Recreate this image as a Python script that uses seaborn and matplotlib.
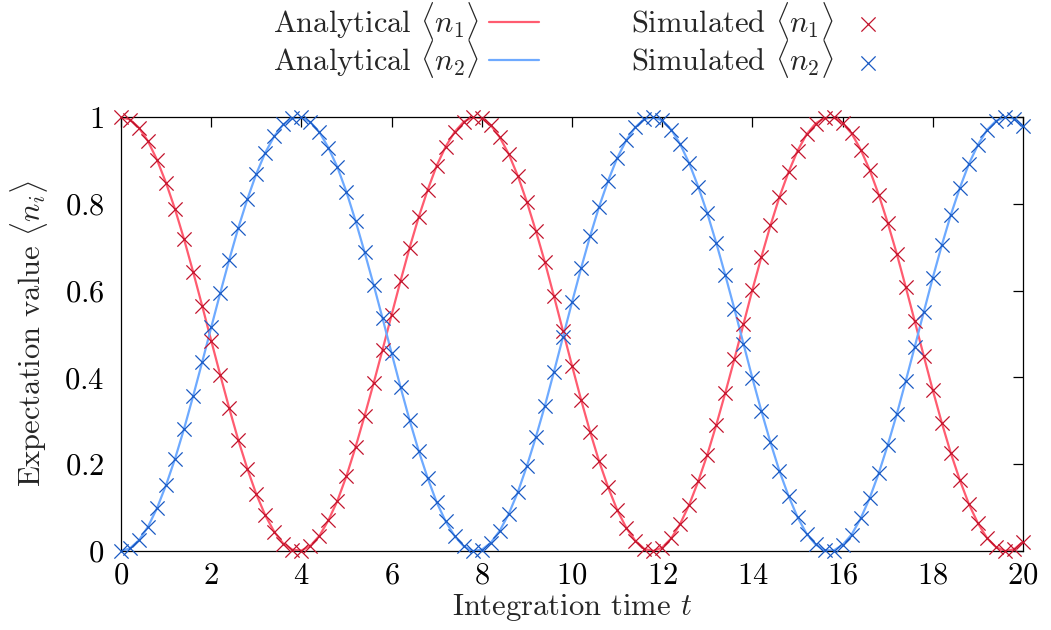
import numpy as np
import pandas as pd
import matplotlib
matplotlib.use("Agg")
import matplotlib.pyplot as plt
from matplotlib.ticker import FixedLocator, FuncFormatter
import seaborn as sns

# Integration times (step 0.2)
t = [round(0.2 * k, 1) for k in range(101)]

# Occupation of mode 1
n1 = [1.000, 0.994, 0.975, 0.944, 0.901, 0.848, 0.787, 0.718, 0.643, 0.565,
      0.485, 0.406, 0.329, 0.256, 0.190, 0.131, 0.082, 0.044, 0.017, 0.003,
      0.001, 0.012, 0.035, 0.071, 0.116, 0.173, 0.239, 0.311, 0.386, 0.464,
      0.544, 0.623, 0.699, 0.769, 0.832, 0.888, 0.932, 0.966, 0.989, 1.000,
      0.997, 0.981, 0.953, 0.914, 0.864, 0.804, 0.737, 0.665, 0.587, 0.507,
      0.427, 0.349, 0.275, 0.207, 0.147, 0.095, 0.054, 0.024, 0.005, 0.000,
      0.008, 0.029, 0.063, 0.107, 0.161, 0.222, 0.291, 0.365, 0.442, 0.522,
      0.602, 0.678, 0.750, 0.816, 0.873, 0.922, 0.960, 0.985, 0.998, 0.999,
      0.986, 0.962, 0.925, 0.878, 0.821, 0.756, 0.685, 0.608, 0.529, 0.449,
      0.370, 0.295, 0.225, 0.163, 0.108, 0.064, 0.030, 0.009, 0.000, 0.004,
      0.021]

# Occupation of mode 2
n2 = [0.000, 0.006, 0.025, 0.056, 0.099, 0.152, 0.213, 0.282, 0.357, 0.435,
      0.515, 0.594, 0.671, 0.744, 0.810, 0.869, 0.918, 0.956, 0.983, 0.997,
      0.999, 0.988, 0.965, 0.929, 0.884, 0.827, 0.761, 0.689, 0.614, 0.536,
      0.456, 0.377, 0.301, 0.231, 0.168, 0.112, 0.068, 0.034, 0.011, 0.000,
      0.003, 0.019, 0.047, 0.086, 0.136, 0.196, 0.263, 0.335, 0.413, 0.493,
      0.573, 0.651, 0.725, 0.793, 0.853, 0.905, 0.946, 0.976, 0.995, 1.000,
      0.992, 0.971, 0.937, 0.893, 0.839, 0.778, 0.709, 0.635, 0.558, 0.478,
      0.398, 0.322, 0.250, 0.184, 0.127, 0.078, 0.040, 0.015, 0.002, 0.001,
      0.014, 0.038, 0.075, 0.122, 0.179, 0.244, 0.315, 0.392, 0.471, 0.551,
      0.630, 0.705, 0.775, 0.837, 0.892, 0.936, 0.970, 0.991, 1.000, 0.996,
      0.979]

x_ticks = [0, 2, 4, 6, 8, 10, 12, 14, 16, 18, 20]
y_ticks = [0, 0.2, 0.4, 0.6, 0.8, 1]

red_line, red_mark = "#ff5c70", "#c2142c"
blue_line, blue_mark = "#6eaaff", "#1a5ac4"

sns.set_style("white")
plt.rcParams.update({
    "font.family": ["cmr10"],
    "mathtext.fontset": "cm",
    "axes.formatter.use_mathtext": True,
    "font.size": 22,
    "axes.linewidth": 0.9,
    "axes.edgecolor": "black",
})

df = pd.DataFrame({"t": t, "n1": n1, "n2": n2})

fig = plt.figure(figsize=(10.51, 6.30), dpi=100)
ax = fig.add_axes([0.1151, 0.1254, 0.8583, 0.6889])

sns.lineplot(data=df, x="t", y="n1", ax=ax, color=red_line, linewidth=1.6,
             label=r"Analytical $\langle n_1\rangle$", zorder=2)
sns.lineplot(data=df, x="t", y="n2", ax=ax, color=blue_line, linewidth=1.6,
             label=r"Analytical $\langle n_2\rangle$", zorder=2)
sns.scatterplot(data=df, x="t", y="n1", ax=ax, marker="x", color=red_mark,
                s=105, linewidth=0.9, clip_on=False, zorder=3,
                label=r"Simulated $\langle n_1\rangle$")
sns.scatterplot(data=df, x="t", y="n2", ax=ax, marker="x", color=blue_mark,
                s=105, linewidth=0.9, clip_on=False, zorder=3,
                label=r"Simulated $\langle n_2\rangle$")

ax.set_xlim(0, 20)
ax.set_ylim(0, 1)
ax.xaxis.set_major_locator(FixedLocator(x_ticks))
ax.yaxis.set_major_locator(FixedLocator(y_ticks))
ax.xaxis.set_major_formatter(FuncFormatter(lambda v, p: f"${v:g}$"))
ax.yaxis.set_major_formatter(FuncFormatter(lambda v, p: f"${v:g}$"))
ax.tick_params(direction="in", length=7, width=0.9, top=True, right=True,
               labelsize=22, colors="black")
ax.tick_params(axis="x", pad=8)
ax.tick_params(axis="y", pad=12)

ax.set_xlabel(r"Integration time $t$", fontsize=22, labelpad=2)
ax.set_ylabel(r"Expectation value $\langle n_i\rangle$", fontsize=22, labelpad=10)

handles, labels = ax.get_legend_handles_labels()
ax.get_legend().remove()
fig.legend(handles, labels, loc="center", bbox_to_anchor=(0.555, 0.936),
           ncol=2, frameon=False, markerfirst=False, fontsize=22,
           handlelength=1.65, handletextpad=0.3, columnspacing=3.0,
           labelspacing=-0.12, borderpad=0.0)

fig.savefig("out.png", dpi=100)
